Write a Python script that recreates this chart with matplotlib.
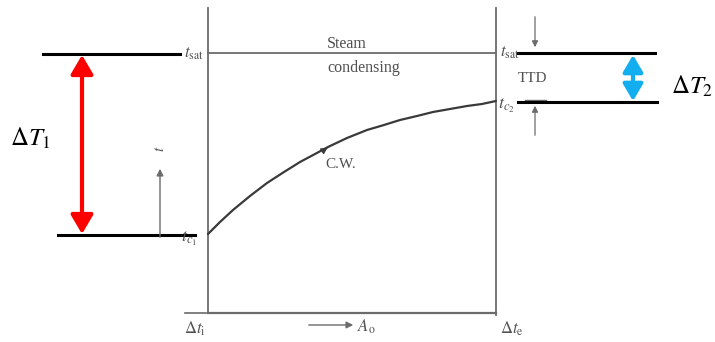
import matplotlib
matplotlib.use("Agg")
import matplotlib.pyplot as plt

plt.rcParams['mathtext.fontset'] = 'stix'

# Diagram geometry (pixel coordinates, y downward)
curve_x = [208, 220, 233, 250, 267, 284, 300, 315, 328, 347, 367, 384, 400, 417, 433, 450, 467, 482, 496]
curve_y = [234, 222, 210, 196, 183, 172, 162, 154, 147, 138, 130, 125, 120, 116, 112, 109, 106, 104, 101]

x_left, x_right = 208, 496
y_top, y_bottom = 8, 313
y_sat = 53

labels_x = ["$\\Delta t_{\\rm i}$", "$A_{\\rm o}$", "$\\Delta t_{\\rm e}$"]

GREY = '#6b6b6b'
TXT = '#505050'

fig = plt.figure(figsize=(7.15, 3.42), dpi=100)
ax = fig.add_axes([0, 0, 1, 1])
ax.set_xlim(0, 715)
ax.set_ylim(342, 0)
ax.axis('off')

# frame of scanned diagram
ax.plot([x_left, x_left], [y_top, y_bottom], color=GREY, lw=1.3)
ax.plot([x_right, x_right], [y_top, y_bottom + 2], color=GREY, lw=1.3)
ax.plot([x_left, x_right], [y_bottom, y_bottom], color=GREY, lw=1.6)
ax.plot([185, 206], [y_bottom, y_bottom], color=GREY, lw=1.2)
ax.plot([x_left, x_right], [y_sat, y_sat], color=GREY, lw=1.3)

# C.W. curve
ax.plot(curve_x, curve_y, color='#3a3a3a', lw=1.6, solid_joinstyle='round', solid_capstyle='round')
ax.annotate('', xy=(curve_x[8] + 2, curve_y[8] - 1), xytext=(curve_x[8] - 4, curve_y[8] + 3),
            arrowprops=dict(arrowstyle='-|>', color='#3a3a3a', lw=0.8, mutation_scale=10))

# texts in diagram
ax.text(347, 44, 'Steam', family='Liberation Serif', fontsize=11.5, color=TXT, ha='center', va='center')
ax.text(364, 68, 'condensing', family='Liberation Serif', fontsize=11.5, color=TXT, ha='center', va='center')
ax.text(341, 164, 'C.W.', family='Liberation Serif', fontsize=11, color=TXT, ha='center', va='center')
ax.text(532, 79, 'TTD', family='Liberation Serif', fontsize=11, color=TXT, ha='center', va='center')

ax.text(194, 53, r'$t_{\rm sat}$', fontsize=12, color=TXT, ha='center', va='center')
ax.text(510, 52, r'$t_{\rm sat}$', fontsize=12, color=TXT, ha='center', va='center')
ax.text(189, 239, r'$t_{c_1}$', fontsize=13, color=TXT, ha='center', va='center')
ax.text(506, 106, r'$t_{c_2}$', fontsize=13, color=TXT, ha='center', va='center')

ax.text(195, 329, labels_x[0], fontsize=12, color=TXT, ha='center', va='center')
ax.text(366, 327, labels_x[1], fontsize=12, color=TXT, ha='center', va='center')
ax.text(512, 329, labels_x[2], fontsize=12, color=TXT, ha='center', va='center')
ax.annotate('', xy=(356, 325), xytext=(306, 325),
            arrowprops=dict(arrowstyle='-|>', color=GREY, lw=1.0, mutation_scale=10))

# vertical t arrow
ax.annotate('', xy=(160, 166), xytext=(160, 240),
            arrowprops=dict(arrowstyle='-|>', color=GREY, lw=1.0, mutation_scale=10))
ax.text(160, 149, r'$t$', fontsize=11, color=TXT, ha='center', va='center', rotation=90)

# TTD small arrows
ax.annotate('', xy=(535, 50), xytext=(535, 14),
            arrowprops=dict(arrowstyle='-|>', color=GREY, lw=0.9, mutation_scale=9))
ax.annotate('', xy=(535, 103), xytext=(535, 138),
            arrowprops=dict(arrowstyle='-|>', color=GREY, lw=0.9, mutation_scale=9))
ax.plot([525, 546], [100, 100], color=GREY, lw=1.0)

# overlay black lines
ax.plot([43, 180], [54, 54], color='black', lw=2.2)
ax.plot([58, 195], [235, 235], color='black', lw=2.2)
ax.plot([518, 655], [53, 53], color='black', lw=2.2)
ax.plot([518, 657], [102, 102], color='black', lw=2.2)

# coloured double arrows
ax.annotate('', xy=(82, 55), xytext=(82, 234),
            arrowprops=dict(arrowstyle='<|-|>,head_length=0.85,head_width=0.5', color='#ff0000',
                            lw=3, mutation_scale=13.5, shrinkA=0, shrinkB=0))
ax.annotate('', xy=(633, 55), xytext=(633, 101),
            arrowprops=dict(arrowstyle='<|-|>,head_length=0.85,head_width=0.5', color='#12aef0',
                            lw=3, mutation_scale=12, shrinkA=0, shrinkB=0))

ax.text(30, 138, r'$\Delta T_1$', fontsize=18, color='black', ha='center', va='center')
ax.text(692, 86, r'$\Delta T_2$', fontsize=18, color='black', ha='center', va='center')

fig.savefig('out.png', dpi=100)
